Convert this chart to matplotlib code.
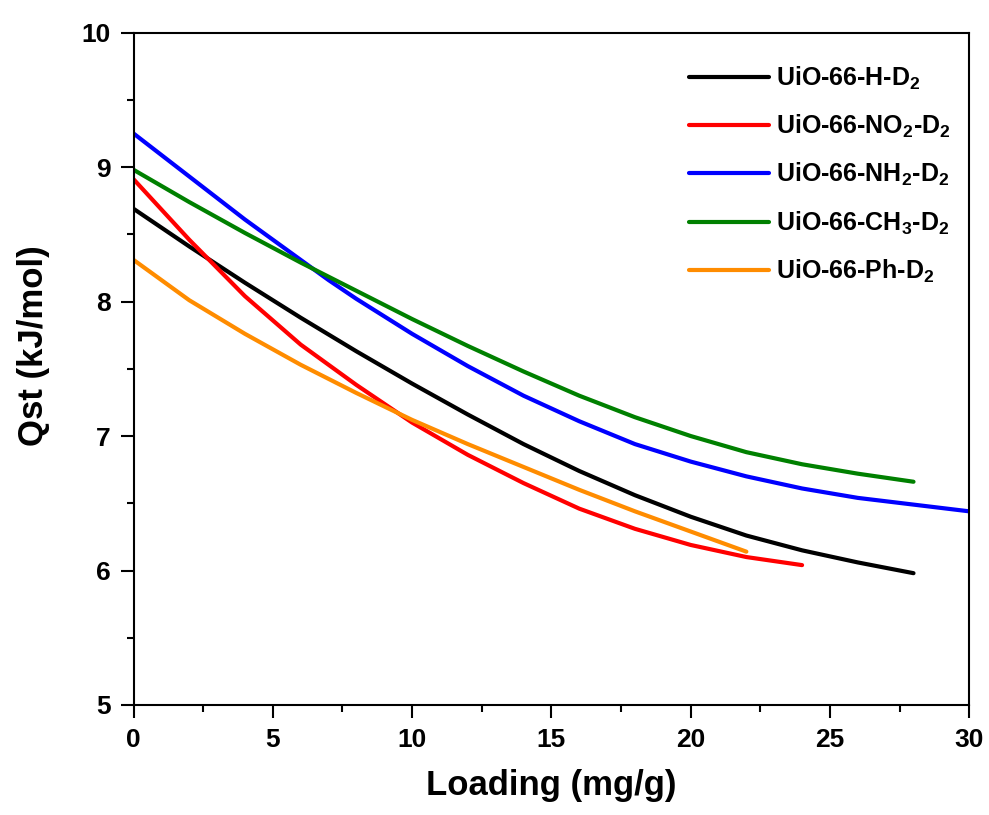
import matplotlib
matplotlib.use("Agg")
import matplotlib.pyplot as plt
from matplotlib.ticker import MultipleLocator

plt.rcParams['font.family'] = ['Liberation Sans', 'DejaVu Sans']
plt.rcParams['font.weight'] = 'bold'
plt.rcParams['mathtext.fontset'] = 'custom'
plt.rcParams['mathtext.rm'] = 'Liberation Sans:bold'
plt.rcParams['mathtext.bf'] = 'Liberation Sans:bold'
plt.rcParams['mathtext.default'] = 'bf'

# Data (Loading mg/g vs Qst kJ/mol)
x_H = [0, 2, 4, 6, 8, 10, 12, 14, 16, 18, 20, 22, 24, 26, 28]
q_H = [8.69, 8.41, 8.14, 7.88, 7.63, 7.39, 7.16, 6.94, 6.74, 6.56, 6.40, 6.26, 6.15, 6.06, 5.98]

x_NO2 = [0, 2, 4, 6, 8, 10, 12, 14, 16, 18, 20, 22, 24]
q_NO2 = [8.91, 8.46, 8.04, 7.68, 7.38, 7.10, 6.86, 6.65, 6.46, 6.31, 6.19, 6.10, 6.04]

x_NH2 = [0, 1, 2, 3, 4, 5, 6, 7, 8, 9, 10, 12, 14, 16, 18, 20, 22, 24, 26, 28, 30]
q_NH2 = [9.25, 9.09, 8.93, 8.77, 8.61, 8.46, 8.31, 8.16, 8.02, 7.89, 7.76, 7.52, 7.30, 7.11, 6.94,
         6.81, 6.70, 6.61, 6.54, 6.49, 6.44]

x_CH3 = [0, 2, 4, 6, 8, 10, 12, 14, 16, 18, 20, 22, 24, 26, 28]
q_CH3 = [8.98, 8.74, 8.51, 8.29, 8.08, 7.87, 7.67, 7.48, 7.30, 7.14, 7.00, 6.88, 6.79, 6.72, 6.66]

x_Ph = [0, 2, 4, 6, 8, 10, 12, 14, 16, 18, 20, 22]
q_Ph = [8.31, 8.01, 7.76, 7.53, 7.32, 7.12, 6.94, 6.77, 6.60, 6.44, 6.29, 6.14]

labels = ['UiO-66-H-D$_2$', 'UiO-66-NO$_2$-D$_2$', 'UiO-66-NH$_2$-D$_2$',
          'UiO-66-CH$_3$-D$_2$', 'UiO-66-Ph-D$_2$']
colors = ['#000000', '#ff0000', '#0000ff', '#008000', '#ff8c00']
series = [(x_H, q_H), (x_NO2, q_NO2), (x_NH2, q_NH2), (x_CH3, q_CH3), (x_Ph, q_Ph)]

fig = plt.figure(figsize=(9.89, 8.15), dpi=100)
ax = fig.add_axes([0.135, 0.135, 0.845, 0.825])

for (xs, ys), lab, c in zip(series, labels, colors):
    ax.plot(xs, ys, color=c, lw=3.0, label=lab, solid_capstyle='round', solid_joinstyle='round')

ax.set_xlim(0, 30)
ax.set_ylim(5, 10)
ax.xaxis.set_major_locator(MultipleLocator(5))
ax.xaxis.set_minor_locator(MultipleLocator(2.5))
ax.yaxis.set_major_locator(MultipleLocator(1))
ax.yaxis.set_minor_locator(MultipleLocator(0.5))
ax.tick_params(which='major', direction='out', length=9.5, width=1.5, labelsize=19, pad=7)
ax.tick_params(which='minor', direction='out', length=5, width=1.5)
ax.tick_params(top=False, right=False)
for s in ax.spines.values():
    s.set_linewidth(1.5)

ax.set_xlabel('Loading (mg/g)', fontsize=25, fontweight='bold', labelpad=12)
ax.set_ylabel('Qst (kJ/mol)', fontsize=25, fontweight='bold')
ax.yaxis.set_label_coords(-0.100, 0.535)

leg = ax.legend(loc='upper right', bbox_to_anchor=(0.99, 0.967), frameon=False,
                fontsize=18, handlelength=3.2, handletextpad=0.3, labelspacing=0.84,
                borderaxespad=0.0)

fig.savefig('out.png', dpi=100)
